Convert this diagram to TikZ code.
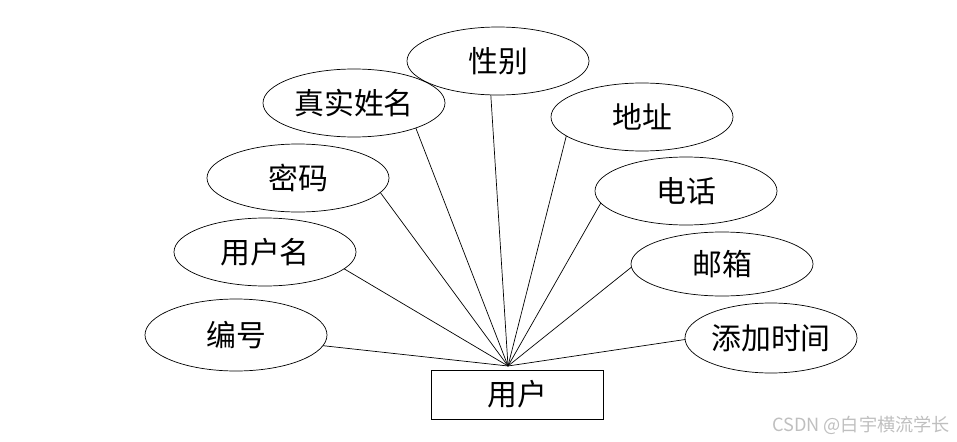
\documentclass[tikz,border=0pt]{standalone}
\usepackage{fontspec}
\newfontfamily\cjk{Noto Sans CJK SC}
\usetikzlibrary{shapes.geometric}

\begin{document}
\begin{tikzpicture}[x=0.3mm,y=-0.3mm,
  attr/.style={draw,shape=ellipse,minimum width=182*0.3mm,minimum height=68*0.3mm,
    inner sep=0pt,outer sep=0pt,line width=0.6pt,font=\cjk\fontsize{25.5}{30}\selectfont},
  entity/.style={draw,shape=rectangle,minimum width=172*0.3mm,minimum height=49*0.3mm,
    inner sep=0pt,outer sep=0pt,line width=0.6pt,font=\cjk\fontsize{25.5}{30}\selectfont},
  link/.style={line width=0.6pt}]

\useasboundingbox (0,0) rectangle (957,442);

\node[entity] (user) at (517,394.5) {用户};
\coordinate (hub) at (508,366);

\node[attr] (gender) at (498,61) {性别};
\node[attr] (realname) at (354,103) {真实姓名};
\node[attr] (address) at (642,117) {地址};
\node[attr] (password) at (298,178) {密码};
\node[attr] (phone) at (686,191) {电话};
\node[attr] (username) at (265,252) {用户名};
\node[attr,minimum height=64*0.3mm] (email) at (722,264) {邮箱};
\node[attr,minimum height=72*0.3mm] (number) at (236,335) {编号};
\node[attr,minimum width=172*0.3mm,minimum height=70*0.3mm] (addtime) at (771,338) {添加时间};

\draw[link] (gender.-102) -- (hub);
\draw[link] (realname.-22) -- (hub);
\draw[link] (password.-10) -- (hub);
\draw[link] (username.-12) -- (hub);
\draw[link] (number.-7) -- (hub);
\draw[link] (address.-166) -- (hub);
\draw[link] (phone.-172) -- (hub);
\draw[link] (email.-178) -- (hub);
\draw[link] (addtime.-179) -- (hub);

\node[text=black!25,font=\cjk\fontsize{15.5}{18}\selectfont] (mark) at (861,425) {CSDN @白宇横流学长};

\end{tikzpicture}
\end{document}
